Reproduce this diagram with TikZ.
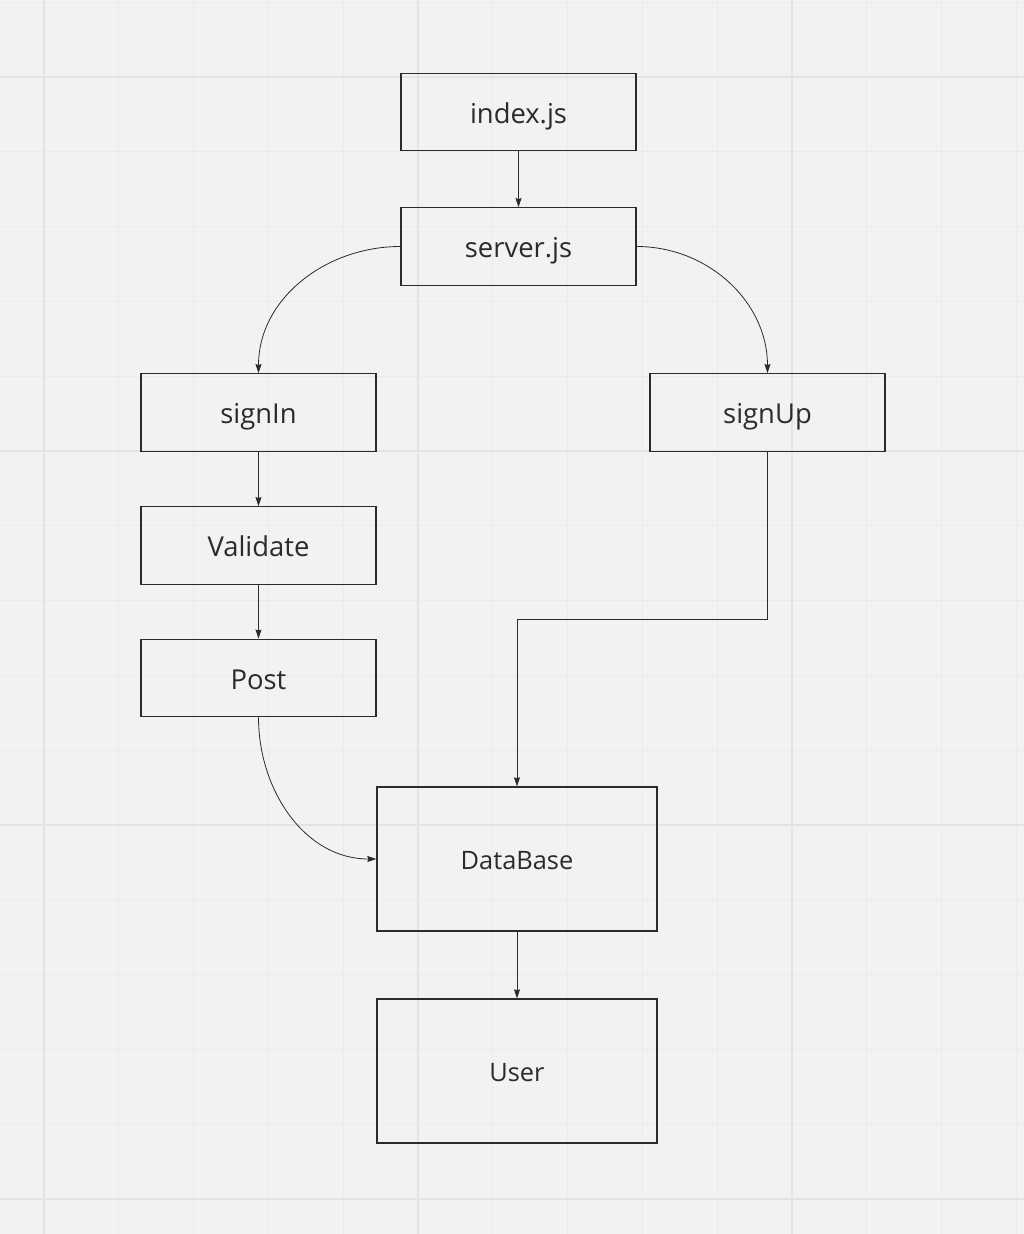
\documentclass[tikz,border=0pt]{standalone}
\usepackage{fontspec}
\setmainfont{Open Sans}
\usetikzlibrary{arrows.meta}
\definecolor{bg}{HTML}{F2F2F2}
\definecolor{gridminor}{HTML}{EBEBEB}
\definecolor{gridmajor}{HTML}{E3E3E3}
\definecolor{ink}{HTML}{2B2B2B}
\tikzset{
  box/.style={draw=ink, line width=1.4pt, fill=none, inner sep=0pt, text=ink, text depth=0pt},
  smallbox/.style={box, minimum width=235pt, minimum height=77.5pt, text height=22pt, font=\fontsize{27.4}{32}\selectfont},
  bigbox/.style={box, minimum width=280pt, minimum height=144pt, text height=20pt, font=\fontsize{25.4}{30}\selectfont},
  conn/.style={draw=ink, line width=0.8pt, -{Stealth[length=9pt,width=6pt,inset=1pt]}},
}
\begin{document}
\begin{tikzpicture}[x=1pt,y=1pt]
\useasboundingbox (0,0) rectangle (1024,-1234);
\fill[bg] (0,0) rectangle (1024,-1234);
% minor grid
\foreach \i in {-1,...,14} {
  \draw[gridminor, line width=1pt] ({44+74.8*\i},0) -- ({44+74.8*\i},-1234);
}
\foreach \j in {-2,...,16} {
  \draw[gridminor, line width=1pt] (0,{-77-74.8*\j}) -- (1024,{-77-74.8*\j});
}
% major grid
\foreach \x in {44,418,792} {
  \draw[gridmajor, line width=2pt] (\x,0) -- (\x,-1234);
}
\foreach \y in {77,451,825,1199} {
  \draw[gridmajor, line width=2pt] (0,-\y) -- (1024,-\y);
}
% nodes
\node[smallbox] (index) at (518.5,-112) {index.js};
\node[smallbox] (server) at (518.5,-246.5) {server.js};
\node[smallbox] (signin) at (258.5,-412.5) {signIn};
\node[smallbox] (signup) at (767.5,-412.5) {signUp};
\node[smallbox] (validate) at (258.5,-545.5) {Validate};
\node[smallbox] (post) at (258.5,-678) {Post};
\node[bigbox] (db) at (517,-859) {DataBase};
\node[bigbox] (user) at (517,-1071) {User};
% connectors
\draw[conn] (index) -- (server);
\draw[conn] (server.west) to[out=180,in=90] (signin.north);
\draw[conn] (server.east) to[out=0,in=90] (signup.north);
\draw[conn] (signin) -- (validate);
\draw[conn] (validate) -- (post);
\draw[conn] (post.south) to[out=-90,in=180] (db.west);
\coordinate (elbow) at (517,-619);
\draw[conn] (signup.south) -- (signup.south |- elbow) -- (elbow) -- (db.north);
\draw[conn] (db) -- (user);
\end{tikzpicture}
\end{document}
